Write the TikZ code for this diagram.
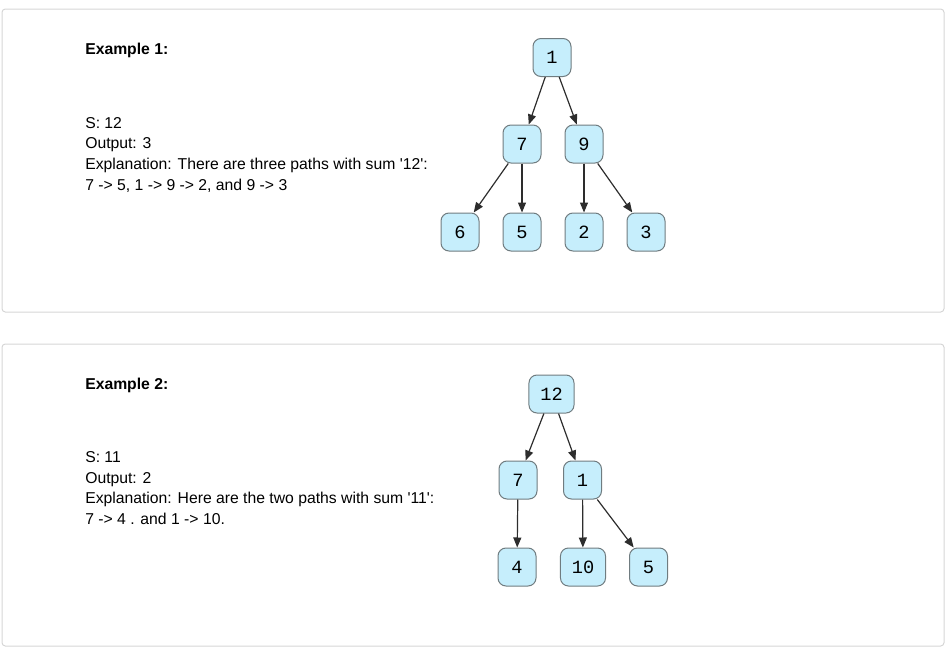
\documentclass[tikz,border=0pt]{standalone}
\usepackage{fontspec}
\setmainfont{Liberation Sans}
\newfontfamily\treefont{Liberation Mono}
\usetikzlibrary{arrows.meta}
\definecolor{panelgray}{RGB}{214,214,214}
\definecolor{nodefill}{RGB}{198,238,252}
\definecolor{nodeline}{RGB}{112,124,128}
\definecolor{edgegray}{RGB}{45,45,45}
\begin{document}
\begin{tikzpicture}[x=0.75pt,y=0.75pt,yscale=-1,xscale=1,
	panel/.style={draw=panelgray,line width=0.75pt,rounded corners=2.5pt},
	tnode/.style={draw=nodeline,fill=nodefill,line width=0.75pt,rounded corners=6pt,
		minimum width=28.5pt,minimum height=28.5pt,inner xsep=8.5pt,inner ysep=0pt,
		font=\treefont\fontsize{14pt}{14pt}\selectfont},
	tedge/.style={draw=edgegray,line width=0.9pt,-{Triangle[length=7.5pt,width=6pt]}},
	desc/.style={anchor=base west,inner sep=0pt,align=left,
		font=\fontsize{11.8pt}{15.5pt}\selectfont}]
	\useasboundingbox (0,0) rectangle (947,653);

	%Rounded Rect [id:panel1] 
	\draw [panel] (2,9) rectangle (944,312) ;
	%Rounded Rect [id:panel2] 
	\draw [panel] (2,344) rectangle (944,646) ;

	% Text Node
	\draw (85,54.5) node [desc] (ttlA) {\textbf{Example 1:}};
	% Text Node
	\draw (85,190) node [desc] (txtA) {S: 12\\Output: 3\\Explanation: There are three paths with sum \textquotesingle 12\textquotesingle :\\7 -> 5, 1 -> 9 -> 2, and 9 -> 3};
	% Text Node
	\draw (85,389.5) node [desc] (ttlB) {\textbf{Example 2:}};
	% Text Node
	\draw (85,524.5) node [desc] (txtB) {S: 11\\Output: 2\\Explanation: Here are the two paths with sum \textquotesingle 11\textquotesingle :\\7 -> 4 . and 1 -> 10.};

	% Tree Node
	\draw (552,57.5) node [tnode] (a1) {1};
	\draw (522,144) node [tnode] (a7) {7};
	\draw (584,144) node [tnode] (a9) {9};
	\draw (460,232) node [tnode] (a6) {6};
	\draw (522,232) node [tnode] (a5) {5};
	\draw (584,232) node [tnode] (a2) {2};
	\draw (646,232) node [tnode] (a3) {3};

	% Tree Node
	\draw (551.5,394) node [tnode] (b12) {12};
	\draw (518,480) node [tnode] (b7) {7};
	\draw (582.5,480) node [tnode] (b1) {1};
	\draw (517,567) node [tnode] (b4) {4};
	\draw (583,567) node [tnode] (b10) {10};
	\draw (648.5,567) node [tnode] (b5) {5};

	%Straight Lines [id:edges] 
	\draw [tedge] (a1) -- (a7) ;
	\draw [tedge] (a1) -- (a9) ;
	\draw [tedge] (a7) -- (a6) ;
	\draw [tedge] (a7) -- (a5) ;
	\draw [tedge] (a9) -- (a2) ;
	\draw [tedge] (a9) -- (a3) ;
	\draw [tedge] (b12) -- (b7) ;
	\draw [tedge] (b12) -- (b1) ;
	\draw [tedge] (b7) -- (b4) ;
	\draw [tedge] (b1) -- (b10) ;
	\draw [tedge] (b1) -- (b5) ;
\end{tikzpicture}
\end{document}
